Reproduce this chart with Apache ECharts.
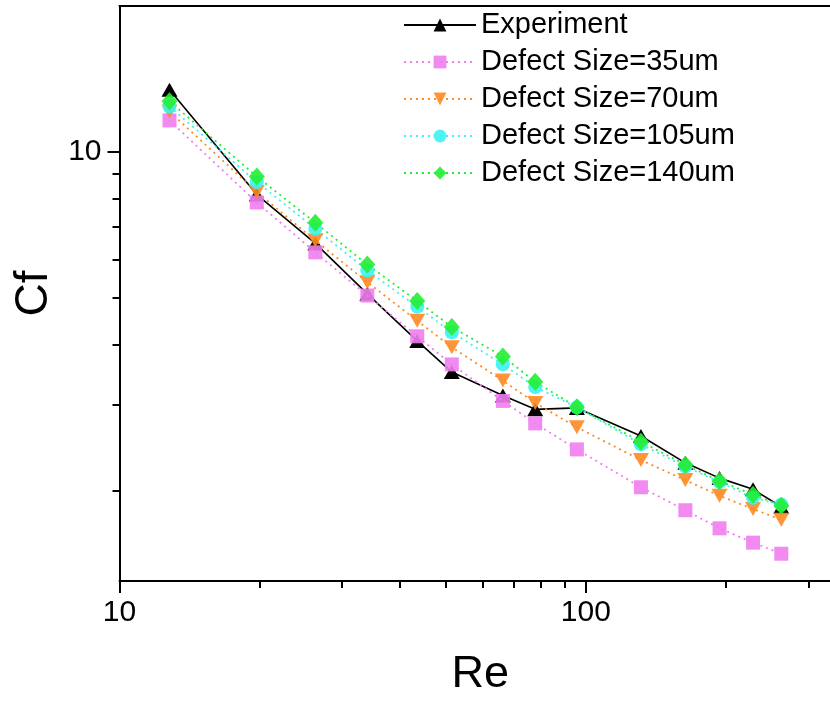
<!DOCTYPE html>
<html>
<head>
<meta charset="utf-8">
<title>Cf vs Re</title>
<script src="https://cdn.jsdelivr.net/npm/echarts@6/dist/echarts.min.js"></script>
<style>
  html, body { margin: 0; padding: 0; background: #fff; }
  #chart { width: 830px; height: 702px; }
</style>
</head>
<body>
<div id="chart"></div>
<script>
// Reynolds numbers of the measured / simulated points
const re = [12.8, 19.7, 26.3, 34.0, 43.5, 51.6, 66.4, 77.9, 95.7, 131.3, 163.5, 193.6, 228.4, 262.6];

// Friction coefficient Cf for each data set
const cfExperiment = [13.43, 8.16, 6.47, 5.09, 4.07, 3.51, 3.14, 2.94, 2.96, 2.59, 2.28, 2.12, 2.01, 1.85];
const cfDefect35  = [11.61, 7.86, 6.20, 5.05, 4.16, 3.64, 3.06, 2.75, 2.43, 2.03, 1.82, 1.67, 1.56, 1.48];
const cfDefect70  = [12.11, 8.26, 6.56, 5.38, 4.48, 3.95, 3.37, 3.03, 2.70, 2.31, 2.10, 1.95, 1.83, 1.74];
const cfDefect105 = [12.40, 8.66, 6.94, 5.69, 4.79, 4.24, 3.64, 3.27, 2.97, 2.49, 2.24, 2.08, 1.93, 1.87];
const cfDefect140 = [12.71, 8.89, 7.14, 5.85, 4.92, 4.35, 3.78, 3.35, 2.97, 2.52, 2.26, 2.09, 1.96, 1.86];

const seriesNames = ['Experiment', 'Defect Size=35um', 'Defect Size=70um', 'Defect Size=105um', 'Defect Size=140um'];

// Axis ticks
const xMajorTicks = [10, 100];
const xMinorTicks = [20, 30, 40, 50, 60, 70, 80, 90, 200, 300];
const yMajorTicks = [10];
const yMinorTicks = [2, 3, 4, 5, 6, 7, 8, 9];

const X_MIN = 10, X_MAX = 334;
const Y_MIN = 1.3, Y_MAX = 20;

const FONT = 'Liberation Sans, Arial, sans-serif';

function pairs(ys) { return re.map((x, i) => [x, ys[i]]); }

const chart = echarts.init(document.getElementById('chart'), null, { renderer: 'canvas' });

const axisLineStyle = { color: '#000', width: 2 };

function dotted(color, symbol, size, extra) {
  return Object.assign({
    type: 'line',
    symbol: symbol,
    symbolSize: size,
    itemStyle: { color: color, opacity: 0.9 },
    lineStyle: { color: color, width: 1.8, type: [2, 4] },
    emphasis: { disabled: true },
    animation: false,
    z: 3
  }, extra || {});
}

const option = {
  backgroundColor: '#fff',
  animation: false,
  grid: { left: 119.5, right: 0, top: 6, bottom: 116, containLabel: false },
  legend: {
    orient: 'vertical',
    left: 398,
    top: 5,
    itemWidth: 72,
    itemHeight: 16,
    itemGap: 7,
    textStyle: { fontFamily: FONT, fontSize: 29, color: '#000', lineHeight: 30 },
    data: seriesNames
  },
  xAxis: [
    {
      type: 'log', logBase: 10, min: X_MIN, max: X_MAX, position: 'bottom',
      name: 'Re', nameLocation: 'middle', nameGap: 71,
      nameTextStyle: { fontFamily: FONT, fontSize: 45, color: '#000', padding: [0, 0, 0, 11] },
      axisLine: { show: true, onZero: false, lineStyle: axisLineStyle },
      axisTick: { show: true, inside: false, length: 12, lineStyle: { color: '#000', width: 2 }, customValues: xMajorTicks },
      axisLabel: { show: true, margin: 17, fontFamily: FONT, fontSize: 30, color: '#000', customValues: xMajorTicks,
                   formatter: v => String(Math.round(v)) },
      splitLine: { show: false }, minorTick: { show: false }
    },
    {
      type: 'log', logBase: 10, min: X_MIN, max: X_MAX, position: 'bottom',
      axisLine: { show: false },
      axisTick: { show: true, inside: false, length: 7, lineStyle: { color: '#000', width: 2 }, customValues: xMinorTicks },
      axisLabel: { show: false }, splitLine: { show: false }
    },
    {
      type: 'log', logBase: 10, min: X_MIN, max: X_MAX, position: 'top',
      axisLine: { show: true, onZero: false, lineStyle: axisLineStyle },
      axisTick: { show: false }, axisLabel: { show: false }, splitLine: { show: false }
    }
  ],
  yAxis: [
    {
      type: 'log', logBase: 10, min: Y_MIN, max: Y_MAX, position: 'left',
      name: 'Cf', nameLocation: 'middle', nameGap: 62,
      nameTextStyle: { fontFamily: FONT, fontSize: 46, color: '#000' },
      axisLine: { show: true, onZero: false, lineStyle: axisLineStyle },
      axisTick: { show: true, inside: false, length: 12, lineStyle: { color: '#000', width: 2 }, customValues: yMajorTicks },
      axisLabel: { show: true, margin: 18, fontFamily: FONT, fontSize: 30, color: '#000', customValues: yMajorTicks,
                   formatter: v => String(Math.round(v)) },
      splitLine: { show: false }
    },
    {
      type: 'log', logBase: 10, min: Y_MIN, max: Y_MAX, position: 'left',
      axisLine: { show: false },
      axisTick: { show: true, inside: false, length: 7, lineStyle: { color: '#000', width: 2 }, customValues: yMinorTicks },
      axisLabel: { show: false }, splitLine: { show: false }
    }
  ],
  series: [
    {
      name: seriesNames[0], type: 'line', data: pairs(cfExperiment),
      symbol: 'triangle', symbolSize: [16, 14],
      itemStyle: { color: '#000' },
      lineStyle: { color: '#000', width: 1.6, type: 'solid' },
      emphasis: { disabled: true }, z: 2
    },
    dotted('#f07ef0', 'rect', 14, { name: seriesNames[1], data: pairs(cfDefect35) }),
    dotted('#ff8a24', 'triangle', [16, 14], { name: seriesNames[2], data: pairs(cfDefect70), symbolRotate: 180 }),
    dotted('#3cf2f2', 'circle', 14, { name: seriesNames[3], data: pairs(cfDefect105) }),
    dotted('#22ee33', 'diamond', [16, 18], { name: seriesNames[4], data: pairs(cfDefect140) })
  ]
};

chart.setOption(option);
</script>
</body>
</html>
